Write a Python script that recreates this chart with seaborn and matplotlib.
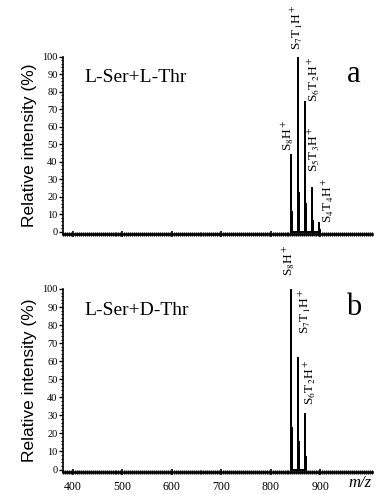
#!/usr/bin/env python3

import matplotlib
matplotlib.use("Agg")
import matplotlib.pyplot as plt
import seaborn as sns
import pandas
from matplotlib.ticker import MultipleLocator

# Panel a: L-Ser + L-Thr clusters
mz_a = [841.7, 855.7, 869.7, 883.7, 897.8]
int_a = [44, 100, 74, 25, 5]
iso_a = [11, 22, 16, 6, 1]
labels_a = [r"S$_8$H$^+$", r"S$_7$T$_1$H$^+$", r"S$_6$T$_2$H$^+$",
            r"S$_5$T$_3$H$^+$", r"S$_4$T$_4$H$^+$"]

# Panel b: L-Ser + D-Thr clusters
mz_b = [841.7, 855.7, 869.7]
int_b = [100, 62, 31]
iso_b = [23, 15, 7]
labels_b = [r"S$_8$H$^+$", r"S$_7$T$_1$H$^+$", r"S$_6$T$_2$H$^+$"]

titles = ["L-Ser+L-Thr", "L-Ser+D-Thr"]
letters = ["a", "b"]
x_ticks = [400, 500, 600, 700, 800, 900]
y_ticks = [0, 10, 20, 30, 40, 50, 60, 70, 80, 90, 100]

# label x shift (in m/z) and y gap, per panel
label_shift_a = [-6, -2, 18, 4, 18]
label_gap_a = [2, 4, 0, 9, 0]
label_shift_b = [-4, 14, 10]
label_gap_b = [7, 13, 5]

sns.set_style("ticks", {"axes.edgecolor": "black", "text.color": "black",
                        "xtick.color": "black", "ytick.color": "black",
                        "axes.labelcolor": "black"})
plt.rcParams["font.family"] = ["Liberation Serif", "DejaVu Serif"]
plt.rcParams["mathtext.fontset"] = "stix"


def sticks(mz, heights, iso):
    """
    Build a stick spectrum (main peak + isotope peak) as a path
    """
    xs, ys = [], []
    for m, h, i in zip(mz, heights, iso):
        xs += [m, m, m, m + 1.5, m + 1.5, m + 1.5]
        ys += [0, h, 0, 0, i, 0]
    return pandas.DataFrame({"mz": xs, "intensity": ys})


def draw(ax, mz, heights, iso, labels, shift, gap, title, letter, show_x):
    df = sticks(mz, heights, iso)
    sns.lineplot(data=df, x="mz", y="intensity", ax=ax, sort=False,
                 estimator=None, color="black", linewidth=1.4)
    for m, h, lab, s, g in zip(mz, heights, labels, shift, gap):
        ax.text(m + s, h + g, lab, rotation=90, ha="center", va="bottom",
                fontsize=9.5, clip_on=False)
    ax.set_xlim(380, 1005)
    ax.set_ylim(-1.5, 100)
    ax.set_xticks(x_ticks)
    ax.set_yticks(y_ticks)
    ax.xaxis.set_minor_locator(MultipleLocator(4))
    ax.yaxis.set_minor_locator(MultipleLocator(2))
    ax.tick_params(axis="y", which="major", length=3, width=1, labelsize=7.5, pad=1)
    ax.tick_params(axis="y", which="minor", length=1.5, width=0.8)
    ax.tick_params(axis="x", which="major", length=4, width=1.2,
                   direction="inout", labelsize=8.5, pad=4)
    ax.tick_params(axis="x", which="minor", length=3.5, width=1.0, direction="inout")
    if not show_x:
        ax.tick_params(axis="x", which="major", labelbottom=False)
    for side in ["top", "right"]:
        ax.spines[side].set_visible(False)
    ax.spines["left"].set_linewidth(1.2)
    ax.spines["bottom"].set_linewidth(1.8)
    ax.set_xlabel("")
    ax.set_ylabel("Relative intensity (%)", family="Liberation Sans",
                  fontsize=12.5, labelpad=4)
    ax.text(0.07, 0.86, title, transform=ax.transAxes, fontsize=14)
    ax.text(0.94, 0.86, letter, transform=ax.transAxes, fontsize=22,
            ha="center")


fig = plt.figure(figsize=(3.92, 4.94), dpi=100)
ax_a = fig.add_axes([0.161, 0.526, 0.788, 0.359])
ax_b = fig.add_axes([0.161, 0.044, 0.788, 0.371])

draw(ax_a, mz_a, int_a, iso_a, labels_a, label_shift_a, label_gap_a,
     titles[0], letters[0], False)
draw(ax_b, mz_b, int_b, iso_b, labels_b, label_shift_b, label_gap_b,
     titles[1], letters[1], True)

# m/z label sits in line with the tick labels
ax_b.text(1.0, -0.06, "m/z", transform=ax_b.transAxes, style="italic",
          fontsize=12, ha="right", va="center")
ax_b.set_xticklabels([str(t) for t in x_ticks])

fig.savefig("out.png", dpi=100, facecolor="white")
